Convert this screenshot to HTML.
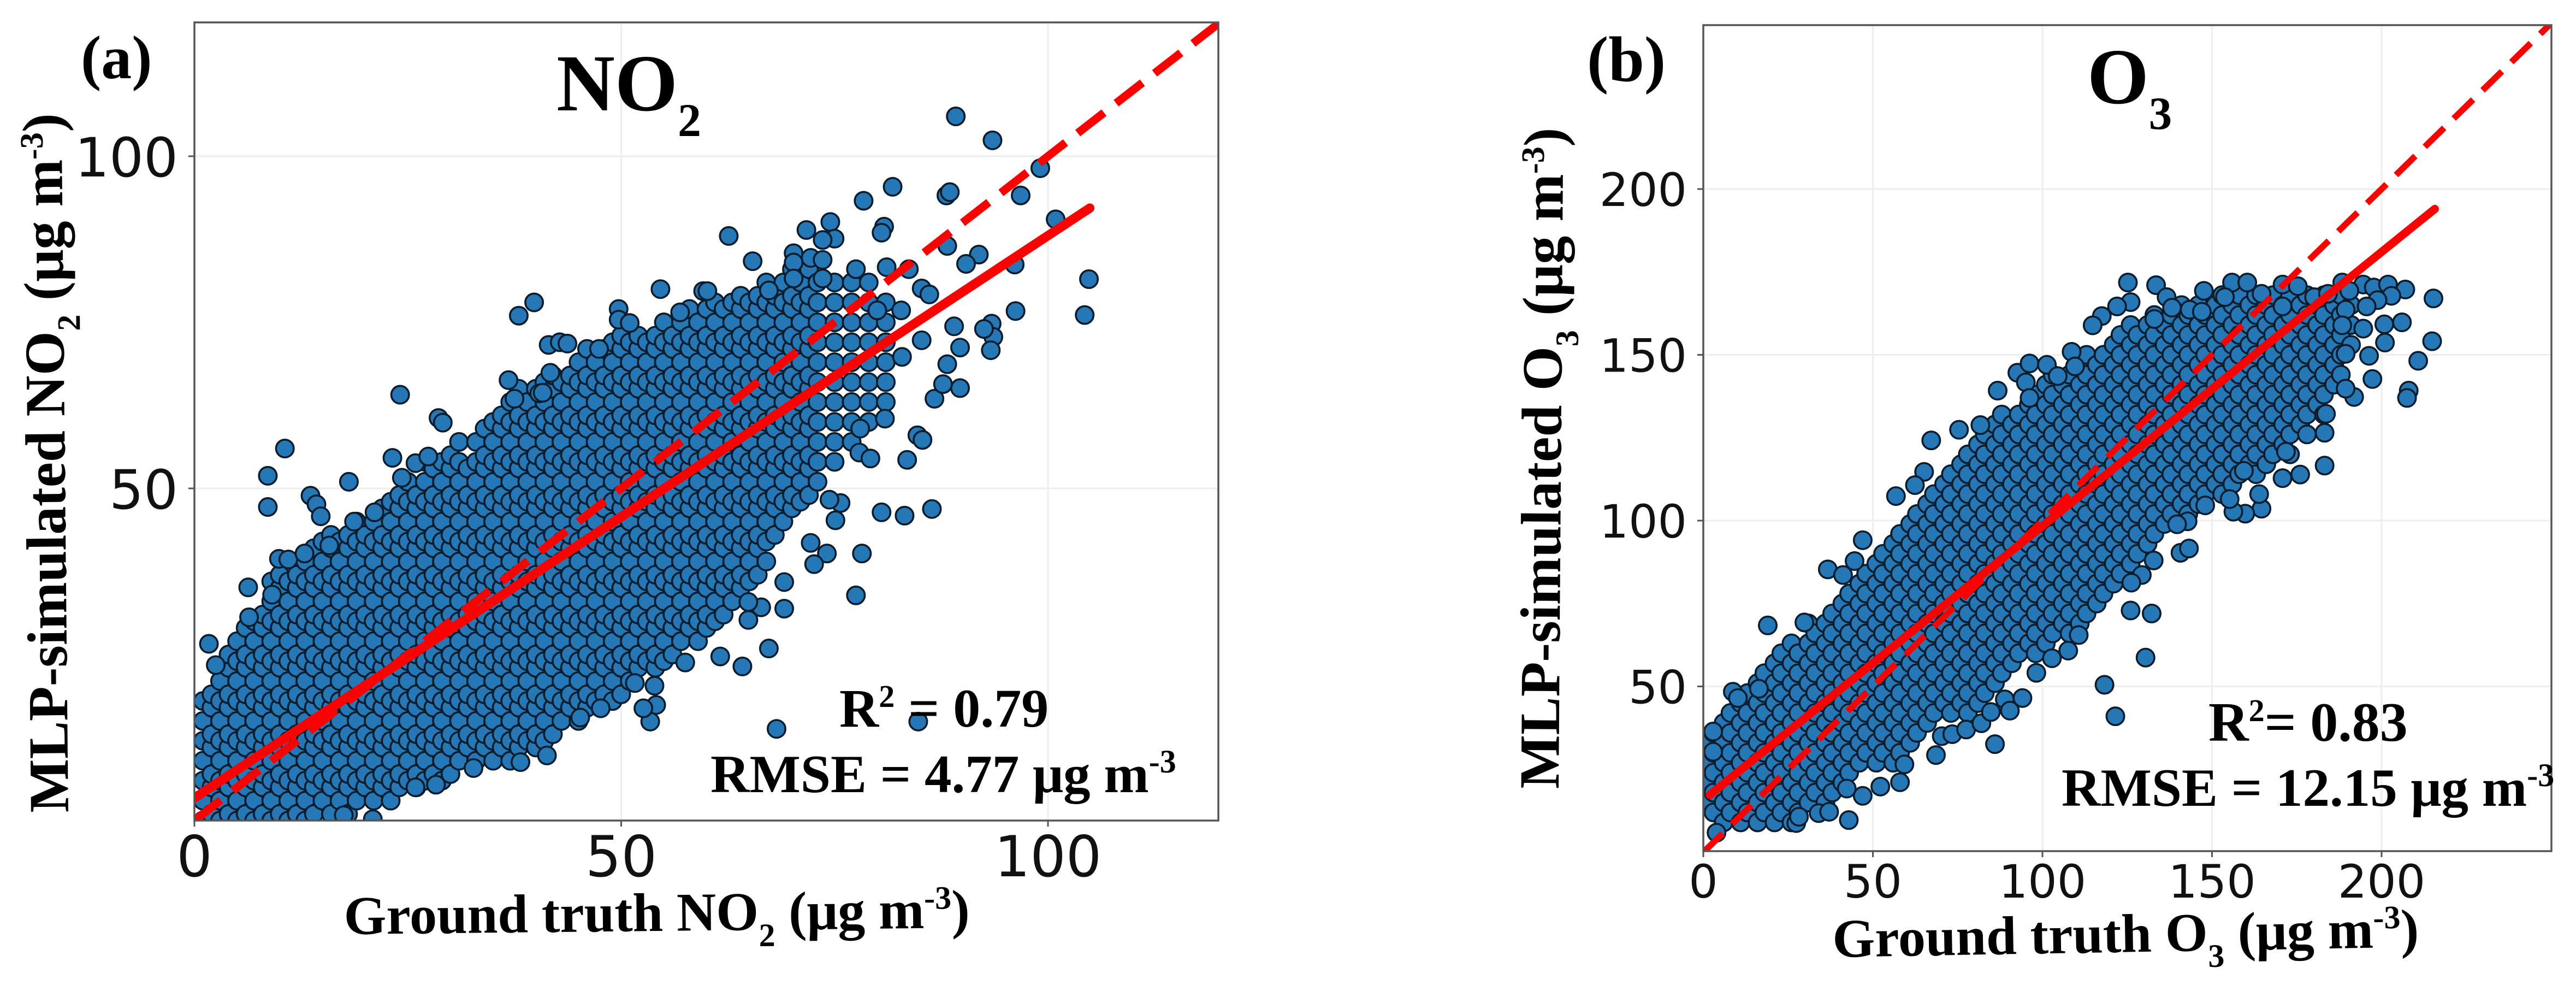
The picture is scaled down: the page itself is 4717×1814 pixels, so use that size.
<!DOCTYPE html>
<html lang="en">
<head>
<meta charset="utf-8">
<title>MLP-simulated vs ground truth NO2 and O3</title>
<style>
html,body{margin:0;padding:0;background:#fff;}
svg{display:block;}
.t{font-family:"Liberation Serif",serif;font-weight:bold;fill:#000;}
.n{font-family:"DejaVu Sans",sans-serif;fill:#111;}
</style>
</head>
<body>
<svg id="figure" xmlns="http://www.w3.org/2000/svg" width="4717" height="1814" viewBox="0 0 4717 1814">
<rect width="4717" height="1814" fill="#fff"/>
<defs>
<clipPath id="clip-a"><rect x="356" y="41" width="1875" height="1461"/></clipPath>
<clipPath id="clip-b"><rect x="3119" y="46" width="1553" height="1512"/></clipPath>
</defs>
<g id="panel-a"></g>
<g id="panel-b"></g>

<text class="t" x="148" y="143" font-size="112">(a)</text>
<text class="t" x="1019" y="202" font-size="148">NO<tspan font-size="86" dy="47">2</tspan></text>
<text class="t" font-size="100" transform="translate(630,1710) rotate(-0.6)">Ground truth NO<tspan font-size="60" dy="30">2</tspan><tspan dy="-30"> (μg m</tspan><tspan font-size="60" dy="-35">-3</tspan><tspan dy="35">)</tspan></text>
<text class="t" font-size="104" transform="translate(125,1487) rotate(-90.56)">MLP-simulated NO<tspan font-size="60" dy="30">2</tspan><tspan dy="-30"> (μg m</tspan><tspan font-size="60" dy="-35">-3</tspan><tspan dy="35">)</tspan></text>

<text class="t" x="2906" y="148" font-size="118">(b)</text>
<text class="t" x="3822" y="189" font-size="145">O<tspan font-size="85" dy="47">3</tspan></text>
<text class="t" font-size="100" transform="translate(3356,1752) rotate(-1)">Ground truth O<tspan font-size="60" dy="30">3</tspan><tspan dy="-30"> (μg m</tspan><tspan font-size="60" dy="-35">-3</tspan><tspan dy="35">)</tspan></text>
<text class="t" font-size="104.5" transform="translate(2854,1444) rotate(-89.6)">MLP-simulated O<tspan font-size="60" dy="30">3</tspan><tspan dy="-30"> (μg m</tspan><tspan font-size="60" dy="-35">-3</tspan><tspan dy="35">)</tspan></text>

<g id="annotations">
<text class="t" x="1537" y="1330" font-size="100">R<tspan font-size="58" dy="-36">2</tspan><tspan dy="36"> = 0.79</tspan></text>
<text class="t" x="1301" y="1450" font-size="99">RMSE = 4.77 μg m<tspan font-size="60" dy="-36">-3</tspan></text>
<text class="t" x="4044" y="1356" font-size="102">R<tspan font-size="58" dy="-36">2</tspan><tspan dy="36">= 0.83</tspan></text>
<text class="t" x="3775" y="1475" font-size="99">RMSE = 12.15 μg m<tspan font-size="60" dy="-36">-3</tspan></text>
</g>
</svg>

<script>
const no2XTicks = [0,50,100];
const no2YTicks = [50,100];
const o3XTicks = [0,50,100,150,200];
const o3YTicks = [50,100,150,200];
const no2Limits = [0,120];
const o3Limits = [0,250];
const no2FitX = [0,104.9];
const no2FitY = [3.4,92.2];
const o3FitX = [1.9,215.7];
const o3FitY = [17.3,194];

const no2TruthDense = [
1,1,1,1,1,1,1,
2,2,2,2,2,2,2,
3,3,3,3,3,3,3,3,
4,4,4,4,4,4,4,4,4,
5,5,5,5,5,5,5,5,5,5,
6,6,6,6,6,6,6,6,6,6,
7,7,7,7,7,7,7,7,7,7,7,
8,8,8,8,8,8,8,8,8,8,8,
9,9,9,9,9,9,9,9,9,9,9,9,9,
10,10,10,10,10,10,10,10,10,10,10,10,10,
11,11,11,11,11,11,11,11,11,11,11,11,11,
12,12,12,12,12,12,12,12,12,12,12,12,12,
13,13,13,13,13,13,13,13,13,13,13,13,13,13,
14,14,14,14,14,14,14,14,14,14,14,14,14,14,
15,15,15,15,15,15,15,15,15,15,15,15,15,15,
16,16,16,16,16,16,16,16,16,16,16,16,16,16,16,
17,17,17,17,17,17,17,17,17,17,17,17,17,17,
18,18,18,18,18,18,18,18,18,18,18,18,18,18,18,
19,19,19,19,19,19,19,19,19,19,19,19,19,19,19,
20,20,20,20,20,20,20,20,20,20,20,20,20,20,
21,21,21,21,21,21,21,21,21,21,21,21,21,21,21,
22,22,22,22,22,22,22,22,22,22,22,22,22,22,22,
23,23,23,23,23,23,23,23,23,23,23,23,23,23,23,23,
24,24,24,24,24,24,24,24,24,24,24,24,24,24,24,24,
25,25,25,25,25,25,25,25,25,25,25,25,25,25,25,25,
26,26,26,26,26,26,26,26,26,26,26,26,26,26,26,26,
27,27,27,27,27,27,27,27,27,27,27,27,27,27,27,27,27,
28,28,28,28,28,28,28,28,28,28,28,28,28,28,28,28,
29,29,29,29,29,29,29,29,29,29,29,29,29,29,29,29,29,
30,30,30,30,30,30,30,30,30,30,30,30,30,30,30,30,30,
31,31,31,31,31,31,31,31,31,31,31,31,31,31,31,31,31,
32,32,32,32,32,32,32,32,32,32,32,32,32,32,32,
33,33,33,33,33,33,33,33,33,33,33,33,33,33,33,33,33,
34,34,34,34,34,34,34,34,34,34,34,34,34,34,34,34,34,
35,35,35,35,35,35,35,35,35,35,35,35,35,35,35,35,35,35,
36,36,36,36,36,36,36,36,36,36,36,36,36,36,36,36,36,36,
37,37,37,37,37,37,37,37,37,37,37,37,37,37,37,37,37,37,37,
38,38,38,38,38,38,38,38,38,38,38,38,38,38,38,38,38,38,38,
39,39,39,39,39,39,39,39,39,39,39,39,39,39,39,39,39,39,
40,40,40,40,40,40,40,40,40,40,40,40,40,40,40,40,40,40,40,
41,41,41,41,41,41,41,41,41,41,41,41,41,41,41,41,41,41,41,
42,42,42,42,42,42,42,42,42,42,42,42,42,42,42,42,42,42,42,
43,43,43,43,43,43,43,43,43,43,43,43,43,43,43,43,43,43,
44,44,44,44,44,44,44,44,44,44,44,44,44,44,44,44,44,44,
45,45,45,45,45,45,45,45,45,45,45,45,45,45,45,45,45,45,45,
46,46,46,46,46,46,46,46,46,46,46,46,46,46,46,46,46,46,46,
47,47,47,47,47,47,47,47,47,47,47,47,47,47,47,47,47,47,
48,48,48,48,48,48,48,48,48,48,48,48,48,48,48,48,48,48,
49,49,49,49,49,49,49,49,49,49,49,49,49,49,49,49,49,49,49,
50,50,50,50,50,50,50,50,50,50,50,50,50,50,50,50,50,50,50,
51,51,51,51,51,51,51,51,51,51,51,51,51,51,51,51,51,51,
52,52,52,52,52,52,52,52,52,52,52,52,52,52,52,52,52,52,
53,53,53,53,53,53,53,53,53,53,53,53,53,53,53,53,53,
54,54,54,54,54,54,54,54,54,54,54,54,54,54,54,54,54,54,
55,55,55,55,55,55,55,55,55,55,55,55,55,55,55,55,55,55,
56,56,56,56,56,56,56,56,56,56,56,56,56,56,56,56,56,
57,57,57,57,57,57,57,57,57,57,57,57,57,57,57,57,57,
58,58,58,58,58,58,58,58,58,58,58,58,58,58,58,58,58,
59,59,59,59,59,59,59,59,59,59,59,59,59,59,59,59,59,
60,60,60,60,60,60,60,60,60,60,60,60,60,60,60,60,60,
61,61,61,61,61,61,61,61,61,61,61,61,61,61,61,61,61,
62,62,62,62,62,62,62,62,62,62,62,62,62,62,62,62,
63,63,63,63,63,63,63,63,63,63,63,63,63,63,63,63,
64,64,64,64,64,64,64,64,64,64,64,64,64,64,64,64,
65,65,65,65,65,65,65,65,65,65,65,65,65,65,65,
66,66,66,66,66,66,66,66,66,66,66,66,66,66,66,
67,67,67,67,67,67,67,67,67,67,67,67,67,67,67,
68,68,68,68,68,68,68,68,68,68,68,68,68,
69,69,69,69,69,69,69,69,69,69,69,69,69,
70,70,70,70,70,70,70,70,70,70,70,70,70,
71,71,71,71,71,71,71,71,71,71,71,71,
72,72,72,72,72,72,72,72,72,72,72,72,
73,73,73,73,73,73,73,73,73,73,73,
75,75,75,75,75,75,75,75,75,75,
77,77,77,77,77,77,77,77,77,
79,79,79,79,79,79,79,79,
81,81,81,81,81,81
];
const no2SimulatedDense = [
0,3,6,9,12,15,18,
1,5,7,11,13,17,19,
0,3,6,9,12,15,18,21,
1,5,7,11,13,17,19,23,25,
0,3,6,9,12,15,18,21,24,27,
1,5,7,11,13,17,19,23,25,29,
0,3,6,9,12,15,18,21,24,27,30,
1,5,7,11,13,17,19,23,25,29,31,
0,3,6,9,12,15,18,21,24,27,30,33,36,
1,5,7,11,13,17,19,23,25,29,31,35,37,
0,3,6,9,12,15,18,21,24,27,30,33,36,
1,5,7,11,13,17,19,23,25,29,31,35,37,
0,3,6,9,12,15,18,21,24,27,30,33,36,39,
1,5,7,11,13,17,19,23,25,29,31,35,37,41,
3,6,9,12,15,18,21,24,27,30,33,36,39,42,
1,5,7,11,13,17,19,23,25,29,31,35,37,41,43,
3,6,9,12,15,18,21,24,27,30,33,36,39,42,
1,5,7,11,13,17,19,23,25,29,31,35,37,41,43,
3,6,9,12,15,18,21,24,27,30,33,36,39,42,45,
5,7,11,13,17,19,23,25,29,31,35,37,41,43,
3,6,9,12,15,18,21,24,27,30,33,36,39,42,45,
5,7,11,13,17,19,23,25,29,31,35,37,41,43,47,
3,6,9,12,15,18,21,24,27,30,33,36,39,42,45,48,
5,7,11,13,17,19,23,25,29,31,35,37,41,43,47,49,
6,9,12,15,18,21,24,27,30,33,36,39,42,45,48,51,
5,7,11,13,17,19,23,25,29,31,35,37,41,43,47,49,
6,9,12,15,18,21,24,27,30,33,36,39,42,45,48,51,54,
7,11,13,17,19,23,25,29,31,35,37,41,43,47,49,53,
6,9,12,15,18,21,24,27,30,33,36,39,42,45,48,51,54,
7,11,13,17,19,23,25,29,31,35,37,41,43,47,49,53,55,
9,12,15,18,21,24,27,30,33,36,39,42,45,48,51,54,57,
11,13,17,19,23,25,29,31,35,37,41,43,47,49,53,
9,12,15,18,21,24,27,30,33,36,39,42,45,48,51,54,57,
11,13,17,19,23,25,29,31,35,37,41,43,47,49,53,55,59,
9,12,15,18,21,24,27,30,33,36,39,42,45,48,51,54,57,60,
11,13,17,19,23,25,29,31,35,37,41,43,47,49,53,55,59,61,
9,12,15,18,21,24,27,30,33,36,39,42,45,48,51,54,57,60,63,
11,13,17,19,23,25,29,31,35,37,41,43,47,49,53,55,59,61,65,
12,15,18,21,24,27,30,33,36,39,42,45,48,51,54,57,60,63,
11,13,17,19,23,25,29,31,35,37,41,43,47,49,53,55,59,61,65,
12,15,18,21,24,27,30,33,36,39,42,45,48,51,54,57,60,63,66,
13,17,19,23,25,29,31,35,37,41,43,47,49,53,55,59,61,65,67,
15,18,21,24,27,30,33,36,39,42,45,48,51,54,57,60,63,66,
17,19,23,25,29,31,35,37,41,43,47,49,53,55,59,61,65,67,
15,18,21,24,27,30,33,36,39,42,45,48,51,54,57,60,63,66,69,
17,19,23,25,29,31,35,37,41,43,47,49,53,55,59,61,65,67,71,
18,21,24,27,30,33,36,39,42,45,48,51,54,57,60,63,66,69,
19,23,25,29,31,35,37,41,43,47,49,53,55,59,61,65,67,71,
18,21,24,27,30,33,36,39,42,45,48,51,54,57,60,63,66,69,72,
19,23,25,29,31,35,37,41,43,47,49,53,55,59,61,65,67,71,73,
21,24,27,30,33,36,39,42,45,48,51,54,57,60,63,66,69,72,
23,25,29,31,35,37,41,43,47,49,53,55,59,61,65,67,71,73,
24,27,30,33,36,39,42,45,48,51,54,57,60,63,66,69,72,
23,25,29,31,35,37,41,43,47,49,53,55,59,61,65,67,71,73,
24,27,30,33,36,39,42,45,48,51,54,57,60,63,66,69,72,75,
25,29,31,35,37,41,43,47,49,53,55,59,61,65,67,71,73,
27,30,33,36,39,42,45,48,51,54,57,60,63,66,69,72,75,
29,31,35,37,41,43,47,49,53,55,59,61,65,67,71,73,77,
27,30,33,36,39,42,45,48,51,54,57,60,63,66,69,72,75,
29,31,35,37,41,43,47,49,53,55,59,61,65,67,71,73,77,
30,33,36,39,42,45,48,51,54,57,60,63,66,69,72,75,78,
31,35,37,41,43,47,49,53,55,59,61,65,67,71,73,77,
33,36,39,42,45,48,51,54,57,60,63,66,69,72,75,78,
35,37,41,43,47,49,53,55,59,61,65,67,71,73,77,79,
36,39,42,45,48,51,54,57,60,63,66,69,72,75,78,
37,41,43,47,49,53,55,59,61,65,67,71,73,77,79,
39,42,45,48,51,54,57,60,63,66,69,72,75,78,81,
43,47,49,53,55,59,61,65,67,71,73,77,79,
45,48,51,54,57,60,63,66,69,72,75,78,81,
47,49,53,55,59,61,65,67,71,73,77,79,83,
48,51,54,57,60,63,66,69,72,75,78,81,
49,53,55,59,61,65,67,71,73,77,79,83,
51,54,57,60,63,66,69,72,75,78,81,
54,57,60,63,66,69,72,75,78,81,
57,60,63,66,69,72,75,78,81,
60,63,66,69,72,75,78,81,
63,66,69,72,75,78
];
const no2TruthOutliers = [
89.2,93.5,99.1,96.8,88.1,88.5,81.8,78.4,100.9,104.8,104.3,96.2,93.4,93.6,92.5,93.3,96.1,91.9,90.4,88.2,
74.5,75,73.6,71.7,80.8,80.5,62.6,65.4,54.6,59.6,60.1,67.3,39.8,38,49.7,49.7,51,56.9,41.5,42.8,43.7,47.4,41.7,36.8,37.5,40.4,40.8,24.1,28.6,29.1,
10.6,8.6,8.6,13.6,14.3,14.8,18.1,23.2,24.3,25.9,27.4,18.7,21.1,9.9,11,12.9,15.8,6.3,6.4,9.1,1.7,2.5,
86.4,83.2,80.5,75.7,74.4,75.1,78.2,77.5,74.1,72.2,72.6,69.1,69.1,66.4,64.9,64.9,67.3,64.2,61.6,57.5,68.2,84.8,53.4,54.1,52.6,51.6,53.9,41.3,38.2,45.2,47.6,28.3,32.7,25.9,20.9,17.5,
83.5,84.7,85.3,78,77.9,79.2,80.9,86.7,89.7,87.7,88.2,89.7,82.9,85.2,89,85.2,86.1,77.5,81.1,83.7,82.8,80,73.6,70.2,70.2,70.2,72.2,73.6
];
const no2SimulatedOutliers = [
106,102.4,98.2,94.1,94.1,94.6,95.4,93.3,90.5,81.5,76.1,76.7,74.8,72.8,74,70.8,83.7,85.2,83.8,86.5,
90.1,87.6,87.4,88.9,89.4,88.5,88,84.2,80,79.7,79.7,79.8,78,76,77,75.4,74.9,76.5,71.6,72,71.8,71,67.4,66.3,63.5,64.3,64.4,64.1,60.6,59.9,
56,51.9,47.2,48.9,47.6,45.8,51,54.6,51.6,53.8,54.8,45,46.4,39.4,39.3,40.2,41.4,35.1,30.6,34,26.6,23.4,
46.9,45.9,46.4,47.8,48.3,45.2,40.2,33.9,40.2,41.8,38.6,35.9,31.9,32.1,32.9,30.2,25.9,23.2,24.7,23.8,13.8,14.9,14.9,17.4,16.9,20.7,20.3,9.8,8.8,15.5,16.9,5.4,7.9,5,0.2,0.8,
54.3,58,57.3,59,55.4,54.5,60.5,63.5,65.1,65.7,68.7,71.2,69.8,72.3,74.4,80.1,79.2,83,83.3,83,76.8,76.8,81.6,85.4,84,81.6,84.7,84.4
];

const o3TruthDense = [
1,1,1,1,
3,3,3,3,3,
6,6,6,6,6,6,
8,8,8,8,8,8,
11,11,11,11,11,11,11,
13,13,13,13,13,13,13,
16,16,16,16,16,16,16,16,
18,18,18,18,18,18,18,18,
21,21,21,21,21,21,21,21,21,
23,23,23,23,23,23,23,23,23,
26,26,26,26,26,26,26,26,26,26,
28,28,28,28,28,28,28,28,28,
31,31,31,31,31,31,31,31,31,31,
33,33,33,33,33,33,33,33,33,
36,36,36,36,36,36,36,36,36,36,
38,38,38,38,38,38,38,38,38,38,
41,41,41,41,41,41,41,41,41,41,
43,43,43,43,43,43,43,43,43,43,
46,46,46,46,46,46,46,46,46,46,
48,48,48,48,48,48,48,48,48,48,
51,51,51,51,51,51,51,51,51,51,51,
53,53,53,53,53,53,53,53,53,53,53,
56,56,56,56,56,56,56,56,56,56,56,56,
58,58,58,58,58,58,58,58,58,58,58,58,
61,61,61,61,61,61,61,61,61,61,61,61,
63,63,63,63,63,63,63,63,63,63,63,63,
66,66,66,66,66,66,66,66,66,66,66,66,
68,68,68,68,68,68,68,68,68,68,68,68,
71,71,71,71,71,71,71,71,71,71,71,71,
73,73,73,73,73,73,73,73,73,73,73,73,73,
76,76,76,76,76,76,76,76,76,76,76,76,76,
78,78,78,78,78,78,78,78,78,78,78,78,78,78,
81,81,81,81,81,81,81,81,81,81,81,81,81,81,
83,83,83,83,83,83,83,83,83,83,83,83,83,83,
86,86,86,86,86,86,86,86,86,86,86,86,86,86,
88,88,88,88,88,88,88,88,88,88,88,88,88,88,
91,91,91,91,91,91,91,91,91,91,91,91,91,
93,93,93,93,93,93,93,93,93,93,93,93,93,
96,96,96,96,96,96,96,96,96,96,96,96,96,
98,98,98,98,98,98,98,98,98,98,98,98,98,98,
101,101,101,101,101,101,101,101,101,101,101,101,101,101,
103,103,103,103,103,103,103,103,103,103,103,103,103,103,
106,106,106,106,106,106,106,106,106,106,106,106,106,
108,108,108,108,108,108,108,108,108,108,108,108,108,108,
111,111,111,111,111,111,111,111,111,111,111,111,111,111,
113,113,113,113,113,113,113,113,113,113,113,113,113,113,
116,116,116,116,116,116,116,116,116,116,116,116,116,
118,118,118,118,118,118,118,118,118,118,118,118,118,
121,121,121,121,121,121,121,121,121,121,121,121,121,
123,123,123,123,123,123,123,123,123,123,123,123,123,
126,126,126,126,126,126,126,126,126,126,126,126,126,
128,128,128,128,128,128,128,128,128,128,128,128,
131,131,131,131,131,131,131,131,131,131,131,131,
133,133,133,133,133,133,133,133,133,133,133,133,
136,136,136,136,136,136,136,136,136,136,136,
138,138,138,138,138,138,138,138,138,138,138,
141,141,141,141,141,141,141,141,141,141,141,
143,143,143,143,143,143,143,143,143,143,143,
146,146,146,146,146,146,146,146,146,146,146,
148,148,148,148,148,148,148,148,148,148,
151,151,151,151,151,151,151,151,151,151,
153,153,153,153,153,153,153,153,153,153,153,
156,156,156,156,156,156,156,156,156,156,
158,158,158,158,158,158,158,158,158,158,
161,161,161,161,161,161,161,161,161,
163,163,163,163,163,163,163,163,163,163,
166,166,166,166,166,166,166,166,166,
168,168,168,168,168,168,168,168,168,
171,171,171,171,171,171,171,171,
173,173,173,173,173,173,173,173,173,
176,176,176,176,176,176,176,
178,178,178,178,178,178,178,178,
181,181,181,181,181,181,
183,183,183,183,183,183,183,
186,186,186,186,186,
188,188,188,188,188,
191,191,191
];
const o3SimulatedDense = [
15,21,27,33,
12,18,24,30,36,
9,15,21,27,33,39,
12,18,24,30,36,42,
9,15,21,27,33,39,45,
12,18,24,30,36,42,48,
9,15,21,27,33,39,45,51,
12,18,24,30,36,42,48,54,
9,15,21,27,33,39,45,51,57,
12,18,24,30,36,42,48,54,60,
9,15,21,27,33,39,45,51,57,63,
12,18,24,30,36,42,48,54,60,
15,21,27,33,39,45,51,57,63,69,
18,24,30,36,42,48,54,60,66,
15,21,27,33,39,45,51,57,63,69,
18,24,30,36,42,48,54,60,66,72,
21,27,33,39,45,51,57,63,69,75,
24,30,36,42,48,54,60,66,72,78,
27,33,39,45,51,57,63,69,75,81,
30,36,42,48,54,60,66,72,78,84,
27,33,39,45,51,57,63,69,75,81,87,
30,36,42,48,54,60,66,72,78,84,90,
27,33,39,45,51,57,63,69,75,81,87,93,
30,36,42,48,54,60,66,72,78,84,90,96,
33,39,45,51,57,63,69,75,81,87,93,99,
36,42,48,54,60,66,72,78,84,90,96,102,
39,45,51,57,63,69,75,81,87,93,99,105,
42,48,54,60,66,72,78,84,90,96,102,108,
45,51,57,63,69,75,81,87,93,99,105,111,
42,48,54,60,66,72,78,84,90,96,102,108,114,
45,51,57,63,69,75,81,87,93,99,105,111,117,
42,48,54,60,66,72,78,84,90,96,102,108,114,120,
45,51,57,63,69,75,81,87,93,99,105,111,117,123,
48,54,60,66,72,78,84,90,96,102,108,114,120,126,
51,57,63,69,75,81,87,93,99,105,111,117,123,129,
54,60,66,72,78,84,90,96,102,108,114,120,126,132,
57,63,69,75,81,87,93,99,105,111,117,123,129,
60,66,72,78,84,90,96,102,108,114,120,126,132,
63,69,75,81,87,93,99,105,111,117,123,129,135,
60,66,72,78,84,90,96,102,108,114,120,126,132,138,
63,69,75,81,87,93,99,105,111,117,123,129,135,141,
66,72,78,84,90,96,102,108,114,120,126,132,138,144,
69,75,81,87,93,99,105,111,117,123,129,135,141,
66,72,78,84,90,96,102,108,114,120,126,132,138,144,
69,75,81,87,93,99,105,111,117,123,129,135,141,147,
72,78,84,90,96,102,108,114,120,126,132,138,144,150,
75,81,87,93,99,105,111,117,123,129,135,141,147,
78,84,90,96,102,108,114,120,126,132,138,144,150,
81,87,93,99,105,111,117,123,129,135,141,147,153,
84,90,96,102,108,114,120,126,132,138,144,150,156,
87,93,99,105,111,117,123,129,135,141,147,153,159,
90,96,102,108,114,120,126,132,138,144,150,156,
93,99,105,111,117,123,129,135,141,147,153,159,
96,102,108,114,120,126,132,138,144,150,156,162,
99,105,111,117,123,129,135,141,147,153,159,
102,108,114,120,126,132,138,144,150,156,162,
105,111,117,123,129,135,141,147,153,159,165,
102,108,114,120,126,132,138,144,150,156,162,
105,111,117,123,129,135,141,147,153,159,165,
108,114,120,126,132,138,144,150,156,162,
111,117,123,129,135,141,147,153,159,165,
108,114,120,126,132,138,144,150,156,162,168,
111,117,123,129,135,141,147,153,159,165,
114,120,126,132,138,144,150,156,162,168,
117,123,129,135,141,147,153,159,165,
114,120,126,132,138,144,150,156,162,168,
117,123,129,135,141,147,153,159,165,
120,126,132,138,144,150,156,162,168,
123,129,135,141,147,153,159,165,
120,126,132,138,144,150,156,162,168,
129,135,141,147,153,159,165,
126,132,138,144,150,156,162,168,
135,141,147,153,159,165,
132,138,144,150,156,162,168,
141,147,153,159,165,
144,150,156,162,168,
153,159,165
];
const o3TruthOutliers = [
125.2,133.5,126,122,133,117.5,114.8,147.6,155.9,160.4,153.8,170.8,175.3,136.6,138.2,143.4,147,170.8,164.6,
188.4,194.6,197.7,201.9,207,202.9,215.3,198.8,206,200.8,201,214.9,210.8,196.3,197.3,191.9,189.4,208,207.5,189.4,194.6,195.6,189.4,180.1,188.4,190.5,184.2,
19,47,44.6,36.7,41.2,56.8,67.2,65.1,62.4,75.4,81.7,86.8,92.6,96.2,95.1,96.2,101.3,104.5,108.6,109.6,29.8,16.4,8.7,2.9,10.2,2.9,
3.9,27.4,28.2,42.9,34,37.1,47,42.3,52.2,58,59.3,68.6,86,70.3,73.4,77.5,82,84.8,88.9,94.1,90.4,
130.4,118.3,121.5,126,132.2,129.3,132.8,126.2,140.7,143.2,107.6,102.8,98.2,110.7,
183.2,176,170.8,164.6,159.8,156.3,163.9,155.2,171.8,183.2,183.6,142.8,139.7,159.4,148
];
const o3SimulatedOutliers = [
171.8,171,165.9,164.6,160.8,161.7,158.9,169.3,171.8,171.8,167.4,171.2,170.7,167.4,164.2,163.6,163,164.6,168.4,
171.8,171.2,170.3,171.2,169.7,167.8,167,166.5,159.8,159.2,153.7,154.1,148.2,149.7,142.7,137.3,139.8,139.2,137,150.3,157.9,164.6,163.6,167.4,158.9,169.3,168.4,
68.4,94.1,87.8,85.3,83.6,107.4,124.2,114.7,110.7,127.4,128.8,139.2,144.6,147.4,141.7,137,147,143.6,150.9,146.5,69.3,49.3,48.4,36.4,46.5,30.3,
5.9,8.8,10.7,9.7,11.8,12.2,17,19.2,19.8,21.1,26.5,29.3,32.6,35,35.6,37,38.9,42.3,46.1,46.5,42.7,
58.7,50.5,41,72.9,72,83.6,88,81.3,90.3,91.6,60.8,58.5,54.1,65.5,
116.6,113.9,112.8,103.6,102.1,102.7,108,106.5,120.8,126.5,132.2,99.8,98.9,115,104.6
];

const SVGNS = 'http://www.w3.org/2000/svg';
function make(parent, tag, attrs) {
  const el = document.createElementNS(SVGNS, tag);
  for (const k in attrs) el.setAttribute(k, attrs[k]);
  parent.appendChild(el);
  return el;
}
function drawPanel(p) {
  const root = document.getElementById(p.id);
  const sx = v => p.x0 + (v - p.xRef[0]) * p.xUnit;
  const sy = v => p.y0 - (v - p.yRef[0]) * p.yUnit;

  p.xTicks.forEach(t => {
    const g = make(root, 'line', {x1: sx(t), x2: sx(t), y1: p.top, y2: p.bottom, stroke: '#eeeeee', 'stroke-width': 3});
    
    
    const m = make(root, 'line', {x1: sx(t), x2: sx(t), y1: p.bottom, y2: p.bottom + 11, stroke: '#555', 'stroke-width': 3});
    
    
    const l = make(root, 'text', {x: sx(t), y: p.xLabelY, 'text-anchor': 'middle', 'font-size': p.xFont, class: 'n'});
    
    
    l.textContent = t;
  });
  p.yTicks.forEach(t => {
    const g = make(root, 'line', {x1: p.left, x2: p.right, y1: sy(t), y2: sy(t), stroke: '#eeeeee', 'stroke-width': 3});
    
    
    const m = make(root, 'line', {x1: p.left - 11, x2: p.left, y1: sy(t), y2: sy(t), stroke: '#555', 'stroke-width': 3});
    
    
    const l = make(root, 'text', {x: p.left - 30, y: sy(t) + p.yLabelDy, 'text-anchor': 'end', 'font-size': p.yFont, class: 'n'});
    
    
    l.textContent = t;
  });

  const pts = make(root, 'g', {'clip-path': 'url(#' + p.clip + ')', fill: '#2577b5', stroke: '#0b1d2c', 'stroke-width': 3.6});
  
  
  p.layers.forEach(layer => {
    const n = Math.min(layer[0].length, layer[1].length);
    for (let i = 0; i < n; i++) {
      const c = make(pts, 'circle', {cx: sx(layer[0][i]), cy: sy(layer[1][i]), r: 16.2});
      
      
    }
  });

  const lines = make(root, 'g', {'clip-path': 'url(#' + p.clip + ')'});
  
  
  const d = make(lines, 'line', {x1: sx(p.limits[0]), y1: sy(p.limits[0]), x2: sx(p.limits[1]), y2: sy(p.limits[1]), stroke: '#ff0000', 'stroke-width': p.dashWidth, 'stroke-dasharray': p.dash});
  
  
  const f = make(lines, 'line', {x1: sx(p.fitX[0]), y1: sy(p.fitY[0]), x2: sx(p.fitX[1]), y2: sy(p.fitY[1]), stroke: '#ff0000', 'stroke-width': p.fitWidth, 'stroke-linecap': 'round'});
  
  

  const fr = make(root, 'rect', {x: p.left, y: p.top, width: p.right - p.left, height: p.bottom - p.top, fill: 'none', stroke: '#555', 'stroke-width': 3.5});
  
  
}

drawPanel({
  id: 'panel-a', clip: 'clip-a',
  left: 356, right: 2231, top: 41, bottom: 1502,
  x0: 356, xRef: [0], xUnit: 15.63, y0: 1502, yRef: [0], yUnit: 12.16,
  xTicks: no2XTicks, yTicks: no2YTicks, limits: no2Limits,
  layers: [[no2TruthDense, no2SimulatedDense], [no2TruthOutliers, no2SimulatedOutliers]],
  fitX: no2FitX, fitY: no2FitY,
  xFont: 103, yFont: 99, xLabelY: 1604, yLabelDy: 37,
  dash: '61 28.1', dashWidth: 15, fitWidth: 17
});
drawPanel({
  id: 'panel-b', clip: 'clip-b',
  left: 3119, right: 4672, top: 46, bottom: 1558,
  x0: 3119, xRef: [0], xUnit: 6.21, y0: 1560, yRef: [0], yUnit: 6.07,
  xTicks: o3XTicks, yTicks: o3YTicks, limits: o3Limits,
  layers: [[o3TruthDense, o3SimulatedDense], [o3TruthOutliers, o3SimulatedOutliers]],
  fitX: o3FitX, fitY: o3FitY,
  xFont: 84, yFont: 84, xLabelY: 1643, yLabelDy: 31,
  dash: '49.5 24.4', dashWidth: 11.5, fitWidth: 15
});
</script>
</body>
</html>
